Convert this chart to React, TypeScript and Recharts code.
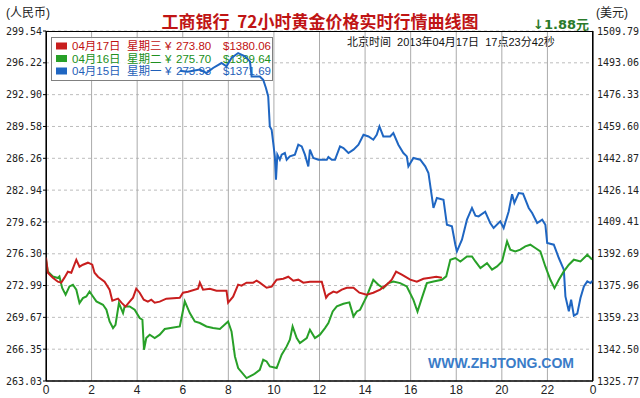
import { CartesianGrid, Customized, Line, LineChart, XAxis, YAxis } from "recharts";

// hours of day (Beijing time) and CNY/gram prices for each day
const redHours = [0, 0.08, 0.3, 0.52, 0.67, 0.81, 0.96, 1.11, 1.33, 1.47, 1.62, 1.84, 2.03, 2.13, 2.28, 2.57, 2.79, 2.91, 3.16, 3.31, 3.49, 3.67, 3.82, 3.96, 4.11, 4.29, 4.47, 4.62, 4.77, 4.99, 5.28, 5.87, 6.01, 6.23, 6.67, 6.75, 6.89, 7.19, 7.48, 7.92, 7.99, 8.21, 8.43, 8.58, 8.8, 9.09, 9.24, 9.38, 9.68, 9.9, 10.12, 10.41, 10.63, 10.85, 11.07, 11.29, 11.58, 12.1, 12.29, 12.39, 12.61, 12.76, 12.98, 13.2, 13.49, 13.75, 14.07, 14.36, 14.66, 14.95, 15.17, 15.36, 15.61, 15.76, 15.98, 16.27, 16.56, 16.86, 17.12, 17.37];
const redValues = [275.9, 274.33, 273.81, 273.39, 273.29, 273.81, 274.43, 274.33, 275.68, 274.95, 275.16, 275.37, 275.16, 274.33, 273.91, 273.39, 272.56, 271.41, 271.62, 271.2, 270.79, 271.31, 271.72, 272.66, 272.24, 271.51, 271.31, 271.51, 271.2, 271.31, 271.62, 271.72, 272.24, 272.35, 272.66, 273.29, 272.56, 272.66, 272.45, 272.45, 271.2, 271.83, 273.08, 272.97, 273.29, 273.29, 273.49, 273.29, 272.76, 272.87, 273.6, 273.7, 273.91, 273.49, 273.6, 273.29, 273.39, 273.39, 271.72, 272.04, 272.35, 272.24, 272.56, 272.76, 272.76, 272.24, 272.04, 272.24, 272.56, 273.08, 273.6, 274.43, 274.12, 273.91, 273.6, 273.39, 273.7, 273.81, 273.91, 273.8];

const greenHours = [0, 0.08, 0.3, 0.52, 0.59, 0.71, 0.86, 1.03, 1.18, 1.33, 1.47, 1.62, 1.77, 1.91, 2.06, 2.21, 2.5, 2.65, 2.79, 2.94, 3.05, 3.2, 3.38, 3.45, 3.67, 3.89, 4.11, 4.23, 4.3, 4.4, 4.55, 4.77, 4.99, 5.21, 5.87, 6.09, 6.31, 6.53, 6.75, 7.04, 7.33, 7.63, 7.99, 8.14, 8.29, 8.43, 8.8, 9.09, 9.38, 9.53, 9.68, 9.82, 10.12, 10.34, 10.56, 10.7, 10.82, 11.0, 11.14, 11.44, 11.58, 11.8, 12.02, 12.24, 12.39, 12.58, 12.76, 13.05, 13.31, 13.49, 13.64, 13.78, 14.07, 14.36, 14.58, 14.8, 15.02, 15.24, 15.54, 15.83, 16.12, 16.3, 16.49, 16.71, 17.0, 17.37, 17.56, 17.74, 17.96, 18.18, 18.47, 18.69, 18.84, 19.06, 19.35, 19.57, 19.79, 20.01, 20.23, 20.37, 20.59, 20.81, 21.03, 21.25, 21.47, 21.69, 21.91, 22.13, 22.31, 22.5, 22.72, 22.94, 23.16, 23.45, 23.75, 23.96];
const greenValues = [275.68, 274.46, 273.94, 273.77, 273.94, 272.73, 272.03, 272.9, 273.07, 272.55, 271.16, 271.68, 271.85, 272.37, 271.85, 271.33, 270.98, 270.46, 269.24, 268.55, 268.9, 271.16, 270.12, 270.81, 270.81, 270.46, 269.6, 269.42, 266.29, 267.51, 267.86, 267.51, 267.86, 268.45, 268.72, 271.33, 270.12, 269.24, 269.08, 268.72, 268.55, 268.45, 269.24, 268.2, 265.59, 264.38, 263.34, 263.68, 264.2, 265.25, 265.07, 264.55, 264.38, 265.77, 266.64, 267.34, 268.72, 267.51, 266.99, 267.51, 268.38, 267.51, 267.86, 268.55, 269.08, 270.29, 270.81, 271.09, 271.23, 269.77, 270.29, 270.46, 271.85, 273.59, 273.07, 272.72, 273.24, 273.41, 273.24, 272.89, 271.5, 270.28, 271.68, 273.24, 273.41, 273.59, 273.94, 275.68, 275.86, 275.5, 276.03, 276.03, 275.5, 274.81, 275.33, 274.64, 274.98, 275.5, 277.59, 276.73, 276.55, 276.73, 277.07, 277.25, 276.9, 276.55, 274.98, 273.59, 272.72, 273.59, 274.46, 275.16, 275.68, 275.5, 276.2, 275.7];

const blueHours = [5.87, 6.22, 6.75, 7.04, 7.33, 7.7, 7.92, 8.14, 8.43, 8.73, 8.95, 9.02, 9.38, 9.53, 9.65, 9.75, 9.82, 9.9, 9.97, 10.04, 10.09, 10.15, 10.26, 10.34, 10.48, 10.56, 10.7, 10.92, 11.07, 11.22, 11.36, 11.51, 11.58, 11.73, 11.95, 12.32, 12.39, 12.54, 12.68, 12.9, 13.05, 13.27, 13.49, 13.71, 13.93, 14.15, 14.36, 14.51, 14.63, 14.8, 15.1, 15.24, 15.46, 15.68, 15.83, 15.9, 16.12, 16.42, 16.64, 16.78, 17.0, 17.15, 17.44, 17.59, 17.81, 17.96, 18.03, 18.25, 18.47, 18.69, 18.84, 18.98, 19.27, 19.49, 19.64, 19.93, 20.08, 20.3, 20.45, 20.55, 20.74, 20.93, 21.18, 21.33, 21.55, 21.77, 21.91, 21.99, 22.28, 22.5, 22.72, 22.79, 22.94, 23.04, 23.16, 23.31, 23.45, 23.6, 23.75, 23.89, 24.0];
const blueValues = [295.4, 295.3, 295.51, 295.16, 295.68, 296.2, 295.85, 296.72, 297.24, 296.89, 296.37, 294.8, 294.8, 294.46, 293.59, 292.72, 289.59, 289.24, 287.86, 286.46, 284.03, 286.64, 286.11, 286.64, 286.81, 286.11, 286.46, 286.64, 287.68, 287.5, 286.64, 285.42, 287.16, 286.29, 286.11, 286.11, 286.4, 286.11, 286.11, 287.5, 287.33, 286.81, 287.16, 287.68, 288.72, 288.54, 288.2, 288.72, 289.59, 288.54, 288.54, 288.9, 287.68, 286.81, 286.46, 285.42, 286.29, 286.11, 285.42, 284.73, 281.08, 282.12, 281.94, 279.33, 279.16, 277.25, 276.55, 277.77, 279.86, 281.08, 280.27, 280.2, 280.69, 279.51, 278.99, 279.68, 278.99, 280.72, 282.52, 281.6, 282.64, 282.57, 281.08, 280.56, 279.51, 279.86, 279.33, 277.43, 277.25, 275.86, 274.64, 271.86, 270.3, 271.51, 269.85, 270.06, 271.69, 272.9, 273.42, 273.25, 273.52];

const hourTicks = [0, 2, 4, 6, 8, 10, 12, 14, 16, 18, 20, 22, 24];
const cnyTicks = [263.03, 266.35, 269.67, 272.99, 276.3, 279.62, 282.94, 286.26, 289.58, 292.9, 296.22, 299.54];
const usdTicks = [1325.77, 1342.5, 1359.23, 1375.96, 1392.69, 1409.41, 1426.14, 1442.87, 1459.6, 1476.33, 1493.06, 1509.79];

const legendDates = ["04月17日", "04月16日", "04月15日"];
const legendDays = ["星期三", "星期二", "星期一"];
const legendCny = ["273.80", "275.70", "273.93"];
const legendUsd = ["1380.06", "1389.64", "1371.69"];
const colors = ["#c81e1e", "#28a028", "#1f66c2"];
const textColors = ["#c01010", "#209020", "#1f5fb8"];

const toPoints = (hours: number[], values: number[]) =>
  hours.map((h, i) => ({ h, v: values[i] }));

const redData = toPoints(redHours, redValues);
const greenData = toPoints(greenHours, greenValues);
const blueData = toPoints(blueHours, blueValues);

const FONT = "'Liberation Sans', 'Noto Sans CJK SC', sans-serif";
const MONO = "'DejaVu Sans Mono', monospace";

function Overlay() {
  return (
    <g>
      <rect x={46.5} y={31.5} width={546} height={349.5} fill="none" stroke="#000" />
      <text x={428} y={368} fontFamily="'Liberation Sans', Arial" fontWeight="bold" fontSize={14} fill="#3a7cc8">
        WWW.ZHJTONG.COM
      </text>
      <rect x={51.5} y={37.5} width={221} height={43} fill="#fff" fillOpacity={0.85} stroke="#808080" />
      {legendDates.map((d, i) => {
        const cy = 46 + i * 12.5;
        return (
          <g key={d} fontFamily={FONT} fontSize={11.5} fill={textColors[i]}>
            <rect x={56} y={cy - 3.5} width={11} height={7} fill={colors[i]} />
            <text x={72} y={cy + 4}>{d}</text>
            <text x={127} y={cy + 4}>{legendDays[i]}</text>
            <text x={165} y={cy + 4}>¥</text>
            <text x={176} y={cy + 4}>{legendCny[i]}</text>
            <text x={223} y={cy + 4}>{"$" + legendUsd[i]}</text>
          </g>
        );
      })}
    </g>
  );
}

export default function App() {
  return (
    <div style={{ position: "absolute", left: 0, top: 0, width: 640, height: 398, background: "#fff", fontFamily: FONT }}>
      <div style={{ position: "absolute", left: 6, top: 7, fontSize: 12, lineHeight: "12px", color: "#222" }}>(人民币)</div>
      <div style={{ position: "absolute", left: 596, top: 7, fontSize: 12, lineHeight: "12px", color: "#222" }}>(美元)</div>
      <div
        style={{
          position: "absolute", left: 0, top: 12, width: 640, textAlign: "center", whiteSpace: "pre",
          fontSize: 17, lineHeight: "17px", fontWeight: 700, color: "#c01414", fontFamily: "'Noto Sans CJK SC', sans-serif",
        }}
      >
        工商银行  72小时黄金价格实时行情曲线图
      </div>
      <div style={{ position: "absolute", left: 533, top: 17, fontSize: 13, lineHeight: "15px", fontWeight: 700, color: "#2a7a2a", fontFamily: "'DejaVu Sans', 'Noto Sans CJK SC', sans-serif" }}>
        ↓1.88元
      </div>
      <div style={{ position: "absolute", left: 347, top: 36, fontSize: 11, lineHeight: "12px", color: "#111", whiteSpace: "pre" }}>
        北京时间  2013年04月17日  17点23分42秒
      </div>
      <div style={{ position: "absolute", left: 0, top: 0 }}>
        <LineChart width={640} height={398} margin={{ top: 31, right: 0, bottom: 0, left: 0 }}>
          <CartesianGrid horizontal vertical={false} stroke="#bdbdbd" strokeDasharray="3 3" />
          <CartesianGrid horizontal={false} vertical stroke="#ababab" />
          <XAxis
            type="number"
            dataKey="h"
            domain={[0, 24]}
            ticks={hourTicks}
            interval={0}
            height={17}
            allowDataOverflow
            tickFormatter={(h: number) => String(h % 24)}
            axisLine={{ stroke: "#000" }}
            tickLine={false}
            tickSize={0}
            tickMargin={4}
            tick={{ fontSize: 12, fill: "#222", fontFamily: "'Liberation Sans', Arial" }}
          />
          <YAxis
            type="number"
            width={46}
            domain={[263.03, 299.54]}
            ticks={cnyTicks}
            interval={0}
            allowDataOverflow
            tickFormatter={(v: number) => v.toFixed(2)}
            axisLine={{ stroke: "#000" }}
            tickLine={{ stroke: "#000" }}
            tickSize={3}
            tickMargin={1}
            tick={{ fontSize: 10, fill: "#222", fontFamily: MONO }}
          />
          <YAxis
            yAxisId="usd"
            orientation="right"
            type="number"
            width={47}
            domain={[1325.77, 1509.79]}
            ticks={usdTicks}
            interval={0}
            allowDataOverflow
            tickFormatter={(v: number) => v.toFixed(2)}
            axisLine={{ stroke: "#000" }}
            tickLine={false}
            tickSize={0}
            tickMargin={4}
            tick={{ fontSize: 10, fill: "#222", fontFamily: MONO }}
          />
          <Customized component={Overlay} />
          <Line data={blueData} dataKey="v" type="linear" stroke={colors[2]} strokeWidth={2} dot={false} isAnimationActive={false} />
          <Line data={greenData} dataKey="v" type="linear" stroke={colors[1]} strokeWidth={2} dot={false} isAnimationActive={false} />
          <Line data={redData} dataKey="v" type="linear" stroke={colors[0]} strokeWidth={2} dot={false} isAnimationActive={false} />
        </LineChart>
      </div>
    </div>
  );
}
